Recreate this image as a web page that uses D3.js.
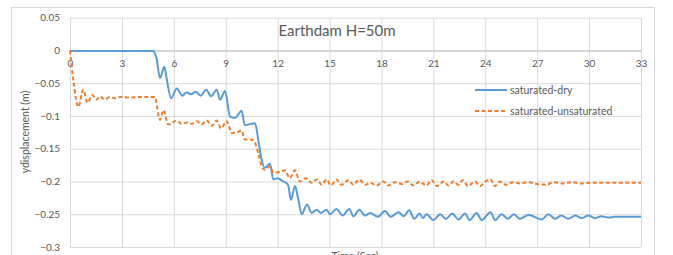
<!DOCTYPE html>
<html>
<head>
<meta charset="utf-8">
<script src="https://cdn.jsdelivr.net/npm/d3@7"></script>
<style>
  body { margin: 0; background: #fff; }
  text { font-family: Lato, "Open Sans", sans-serif; fill: #595959; }
</style>
</head>
<body>
<svg id="chart"></svg>
<script>
// Data
const chartTitle = "Earthdam H=50m";
const xTicks = [0, 3, 6, 9, 12, 15, 18, 21, 24, 27, 30, 33];
const yTicks = [0.05, 0, -0.05, -0.1, -0.15, -0.2, -0.25, -0.3];
const seriesNames = ["saturated-dry", "saturated-unsaturated"];

const dryTime = [0, 1, 2, 3, 4, 4.8, 5.0, 5.2, 5.45, 5.6, 5.84, 6.17, 6.49, 6.74, 7.0, 7.26, 7.55, 7.87, 8.16, 8.48, 8.67, 8.96,
  9.25, 9.54, 9.92, 10.1, 10.5, 10.7, 10.9, 11.08, 11.27, 11.56, 11.75, 11.98, 12.33, 12.6, 12.77, 13.0, 13.2, 13.39, 13.7,
  13.97, 14.26, 14.5, 14.83, 15.03, 15.4, 15.76, 16.14, 16.38, 16.72, 17.05, 17.34, 17.8, 18.2, 18.54, 18.98, 19.3, 19.6,
  19.9, 20.2, 20.4, 20.6, 21.0, 21.4, 21.73, 22.1, 22.45, 22.83, 23.1, 23.5, 23.8, 24.3, 24.57, 24.95, 25.3, 25.66, 26.0,
  26.5, 27.26, 27.65, 28.03, 28.4, 28.8, 29.2, 29.57, 29.96, 30.35, 30.7, 31.1, 31.5, 32, 33];
const dryDisp = [-0.001, -0.001, -0.001, -0.001, -0.001, -0.001, -0.012, -0.042, -0.025, -0.045, -0.073, -0.058, -0.069,
  -0.064, -0.067, -0.063, -0.069, -0.060, -0.070, -0.060, -0.075, -0.062, -0.101, -0.103, -0.092, -0.114, -0.112, -0.111,
  -0.140, -0.167, -0.179, -0.173, -0.197, -0.195, -0.200, -0.205, -0.228, -0.207, -0.228, -0.250, -0.235, -0.248, -0.243,
  -0.248, -0.243, -0.250, -0.242, -0.252, -0.242, -0.253, -0.243, -0.252, -0.248, -0.254, -0.245, -0.254, -0.247, -0.253,
  -0.244, -0.257, -0.249, -0.256, -0.250, -0.259, -0.250, -0.257, -0.249, -0.258, -0.249, -0.259, -0.248, -0.259, -0.247,
  -0.259, -0.250, -0.257, -0.250, -0.257, -0.251, -0.258, -0.250, -0.257, -0.252, -0.257, -0.252, -0.256, -0.252, -0.256,
  -0.253, -0.255, -0.254, -0.254, -0.254];

const unsatTime = [0, 0.19, 0.48, 0.77, 1.02, 1.29, 1.54, 1.73, 2.02, 2.3, 2.6, 2.9, 3.5, 4.0, 4.9, 5.2, 5.4, 5.68, 6.17,
  6.45, 6.74, 7.03, 7.32, 7.6, 7.9, 8.19, 8.48, 8.73, 9.06, 9.35, 9.73, 9.92, 10.1, 10.47, 10.66, 10.88, 11.08, 11.27,
  11.56, 11.75, 12.14, 12.43, 12.7, 13.0, 13.29, 13.64, 13.97, 14.26, 14.55, 14.84, 15.07, 15.4, 15.68, 16.09, 16.38,
  16.72, 17.05, 17.34, 17.73, 18.1, 18.4, 18.8, 19.2, 19.5, 19.85, 20.2, 20.6, 20.9, 21.2, 21.6, 21.87, 22.16, 22.45,
  22.7, 23.0, 23.4, 23.7, 24.0, 24.3, 24.55, 24.85, 25.2, 25.6, 26.0, 26.5, 27.0, 27.55, 27.93, 28.5, 29.0, 29.5, 30.0, 33];
const unsatDisp = [0, -0.045, -0.086, -0.060, -0.080, -0.068, -0.075, -0.070, -0.075, -0.071, -0.073, -0.071, -0.072,
  -0.071, -0.071, -0.106, -0.091, -0.113, -0.107, -0.112, -0.110, -0.112, -0.108, -0.113, -0.107, -0.115, -0.107, -0.119,
  -0.108, -0.126, -0.124, -0.122, -0.136, -0.136, -0.139, -0.157, -0.177, -0.182, -0.177, -0.187, -0.185, -0.183, -0.195,
  -0.183, -0.200, -0.195, -0.202, -0.197, -0.205, -0.197, -0.206, -0.197, -0.205, -0.198, -0.205, -0.197, -0.205, -0.202,
  -0.206, -0.200, -0.206, -0.201, -0.204, -0.200, -0.206, -0.200, -0.206, -0.198, -0.207, -0.200, -0.206, -0.200, -0.205,
  -0.198, -0.207, -0.200, -0.207, -0.200, -0.197, -0.207, -0.200, -0.205, -0.201, -0.203, -0.201, -0.204, -0.205, -0.201,
  -0.203, -0.201, -0.203, -0.202, -0.202];

const colors = ["#5B9BD5", "#ED7D31"];

// Size
let width = 673;
let height = 255;
let svg = d3.select("#chart").attr("width", width).attr("height", height);

// chart frame
svg.append("rect")
  .attr("x", 11.5).attr("y", 7.5)
  .attr("width", 643).attr("height", 270)
  .attr("fill", "#fff").attr("stroke", "#D9D9D9");

let xScale = d3.scaleLinear().domain([0, 33]).range([70, 641]);
let yScale = d3.scaleLinear().domain([-0.3, 0.05]).range([247, 17.7]);

// gridlines
svg.append("g")
  .attr("transform", "translate(0,17.7)")
  .call(d3.axisBottom(xScale).tickValues(xTicks).tickSize(247 - 17.7).tickFormat(""))
  .call((g) => g.select(".domain").remove())
  .selectAll("line").attr("stroke", "#D9D9D9");

svg.append("g")
  .attr("transform", "translate(70,0)")
  .call(d3.axisRight(yScale).tickValues(yTicks).tickSize(641 - 70).tickFormat(""))
  .call((g) => g.select(".domain").remove())
  .selectAll("line").attr("stroke", "#D9D9D9");

// y axis labels
svg.append("g")
  .attr("transform", "translate(70,0)")
  .call(d3.axisLeft(yScale).tickValues(yTicks).tickSize(0).tickPadding(10).tickFormat((d) => d3.format("")(+d.toFixed(2))))
  .call((g) => g.select(".domain").remove())
  .selectAll("text").style("font-size", "10px").attr("fill", "#595959");

// x axis crossing at 0
svg.append("g")
  .attr("transform", "translate(0," + yScale(0) + ")")
  .call(d3.axisBottom(xScale).tickValues(xTicks).tickSize(0).tickPadding(9))
  .call((g) => g.select(".domain").attr("stroke", "#BFBFBF"))
  .selectAll("text").style("font-size", "10px").attr("fill", "#595959");

// lines
let line = d3.line()
  .x((d) => xScale(d[0]))
  .y((d) => yScale(d[1]))
  .curve(d3.curveMonotoneX);

let dryData = dryTime.map((t, i) => [t, dryDisp[i]]);
let unsatData = unsatTime.map((t, i) => [t, unsatDisp[i]]);

svg.append("path")
  .datum(dryData)
  .attr("d", line)
  .attr("fill", "none")
  .attr("stroke", colors[0])
  .attr("stroke-width", 2);

svg.append("path")
  .datum(unsatData)
  .attr("d", line)
  .attr("fill", "none")
  .attr("stroke", colors[1])
  .attr("stroke-width", 2)
  .attr("stroke-dasharray", "4,2.5");

// title
svg.append("text")
  .attr("x", 337).attr("y", 36)
  .attr("text-anchor", "middle")
  .style("font-size", "15px")
  .text(chartTitle);

// axis titles
svg.append("text")
  .attr("transform", "translate(29,132) rotate(-90)")
  .attr("text-anchor", "middle")
  .style("font-size", "10.5px")
  .text("ydisplacement (m)");

// the reference crops this title at the bottom edge
svg.append("text")
  .attr("x", 355).attr("y", 260)
  .attr("text-anchor", "middle")
  .style("font-size", "10.5px")
  .text("Time (Sec)");

// legend
let legend = svg.append("g");
seriesNames.forEach((name, i) => {
  let ly = 90 + i * 21;
  legend.append("line")
    .attr("x1", 475).attr("x2", 507)
    .attr("y1", ly).attr("y2", ly)
    .attr("stroke", colors[i])
    .attr("stroke-width", 2)
    .attr("stroke-dasharray", i == 1 ? "4,2.5" : null);
  legend.append("text")
    .attr("x", 510).attr("y", ly)
    .attr("dy", "0.35em")
    .style("font-size", "10.5px")
    .text(name);
});
</script>
</body>
</html>
